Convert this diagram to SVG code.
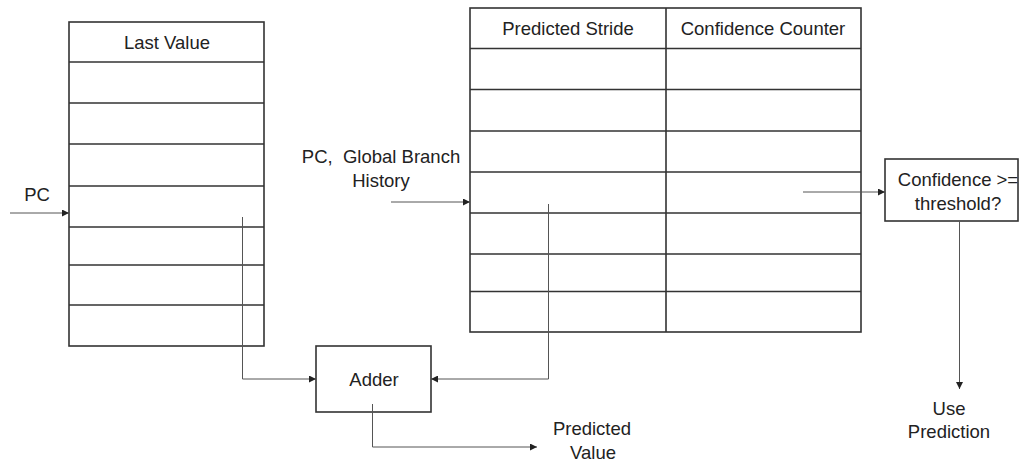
<svg xmlns="http://www.w3.org/2000/svg" width="1021" height="463" viewBox="0 0 1021 463">
<style>
text{font-family:"Liberation Sans",Arial,sans-serif;font-size:18.5px;fill:#222;text-anchor:middle;white-space:pre}
.box{fill:#fff;stroke:#333;stroke-width:1.6}
.grid{stroke:#333;stroke-width:1.6;fill:none}
.conn{stroke:#555;stroke-width:1;fill:none}
</style>
<defs>
<marker id="arr" viewBox="0 0 10 10" refX="10" refY="5" markerWidth="7" markerHeight="7" orient="auto" markerUnits="userSpaceOnUse">
<path d="M0,0 L10,5 L0,10 z" fill="#222"/>
</marker>
</defs>
<rect width="1021" height="463" fill="#fff"/>

<g id="last-value-table">
<rect class="box" x="69" y="22" width="195" height="324"/>
<path class="grid" d="M69 62H264M69 103H264M69 144H264M69 186H264M69 227H264M69 265H264M69 305H264"/>
<text x="167" y="49">Last Value</text>
</g>

<g id="stride-table">
<rect class="box" x="470" y="8" width="391" height="324"/>
<path class="grid" d="M470 48.5H861M470 89.5H861M470 131H861M470 172H861M470 213H861M470 254H861M470 291.5H861M666 8V332"/>
<text x="568" y="35">Predicted Stride</text>
<text x="763" y="35">Confidence Counter</text>
</g>

<g id="adder">
<rect class="box" x="316" y="346" width="115" height="66"/>
<text x="374" y="386">Adder</text>
</g>

<g id="confidence-check">
<rect class="box" x="885" y="159" width="133" height="62"/>
<text x="958" y="186">Confidence &gt;=</text>
<text x="958" y="210">threshold?</text>
</g>

<g id="labels">
<text x="37" y="201">PC</text>
<text x="381" y="163" xml:space="preserve">PC,  Global Branch</text>
<text x="381" y="187">History</text>
<text x="592" y="435">Predicted</text>
<text x="593" y="459">Value</text>
<text x="949" y="415">Use</text>
<text x="949" y="438">Prediction</text>
</g>

<g id="connectors">
<path class="conn" d="M10 213H69" marker-end="url(#arr)"/>
<path class="conn" d="M391 202H470" marker-end="url(#arr)"/>
<path class="conn" d="M242.5 217V379H316" marker-end="url(#arr)"/>
<path class="conn" d="M548.5 204V379H431" marker-end="url(#arr)"/>
<path class="conn" d="M372.5 404V447H537" marker-end="url(#arr)"/>
<path class="conn" d="M803 192H885" marker-end="url(#arr)"/>
<path class="conn" d="M959.5 221V389" marker-end="url(#arr)"/>
</g>
</svg>
